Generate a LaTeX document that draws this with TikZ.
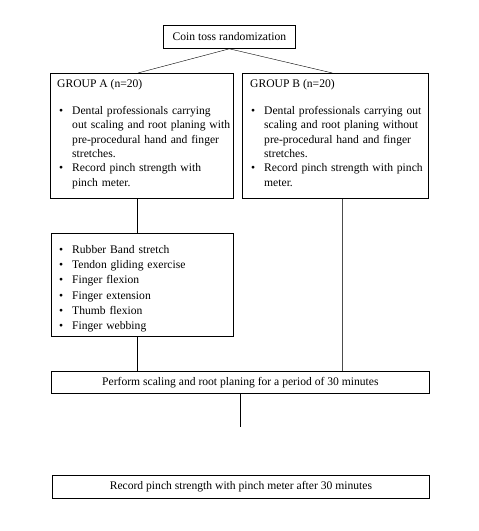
\documentclass[tikz,border=0pt]{standalone}
\usepackage{fontspec}
\setmainfont{Liberation Serif}
\usetikzlibrary{positioning}

\newenvironment{pointlist}{\begin{list}{\textbullet}{\setlength{\leftmargin}{15pt}\setlength{\labelsep}{9pt}\setlength{\labelwidth}{6pt}\setlength{\itemsep}{0pt}\setlength{\parsep}{0pt}\setlength{\topsep}{0pt}\setlength{\partopsep}{0pt}}}{\end{list}}

\tikzset{
  box/.style={draw, line width=0.8pt, anchor=north west, inner sep=0pt},
  head/.style={anchor=base west, inner sep=0pt},
  points/.style={anchor=north west, inner sep=0pt, align=left, text width=185pt}
}

\begin{document}
\begin{tikzpicture}[x=1pt, y=-1pt, font=\fontsize{11.6}{14.3}\selectfont]
\useasboundingbox (0,0) rectangle (479,531);
% boxes
\node[box, minimum width=132pt, minimum height=23pt] (coin) at (163,25) {Coin toss randomization};
\node[box, minimum width=183pt, minimum height=125pt] (grpA) at (50,73) {};
\node[box, minimum width=186pt, minimum height=125pt] (grpB) at (242,73) {};
\node[box, minimum width=182pt, minimum height=103pt] (exer) at (51,233) {};
\node[box, minimum width=378pt, minimum height=22pt] (perform) at (51,371) {Perform scaling and root planing for a period of 30 minutes};
\node[box, minimum width=377pt, minimum height=23pt] (record) at (52,475) {Record pinch strength with pinch meter after 30 minutes};
% group texts
\node[head] (headA) at (57,87) {GROUP A (n=20)};
\node[head] (headB) at (250,87) {GROUP B (n=20)};
\node[points] (listA) at (57,100) {\begin{pointlist}
  \item\strut Dental professionals carrying\newline out scaling and root planing with\newline pre-procedural hand and finger\newline stretches.
  \item\strut Record pinch strength with\newline pinch meter.
\end{pointlist}};
\node[points] (listB) at (249,100) {\begin{pointlist}
  \item\strut Dental professionals carrying out\newline scaling and root planing without\newline pre-procedural hand and finger\newline stretches.
  \item\strut Record pinch strength with pinch\newline meter.
\end{pointlist}};
\node[points, font=\fontsize{11.6}{15.2}\selectfont] (listE) at (57,238) {\begin{pointlist}
  \item\strut Rubber Band stretch
  \item Tendon gliding exercise
  \item Finger flexion
  \item Finger extension
  \item Thumb flexion
  \item Finger webbing
\end{pointlist}};
% connectors
\draw (coin.south) -- ([xshift=-4pt]grpA.north);
\draw (coin.south) -- ([xshift=-3pt]grpB.north);
\draw ([xshift=-5pt]grpA.south) -- ([xshift=-5pt]grpA.south |- exer.north);
\draw ([xshift=-5pt]exer.south) -- ([xshift=-5pt]exer.south |- perform.north);
\draw[black!70] ([xshift=7pt]grpB.south) -- ([xshift=7pt]grpB.south |- perform.north);
\draw (perform.south) -- ++(0,33) coordinate (gap);
\end{tikzpicture}
\end{document}
